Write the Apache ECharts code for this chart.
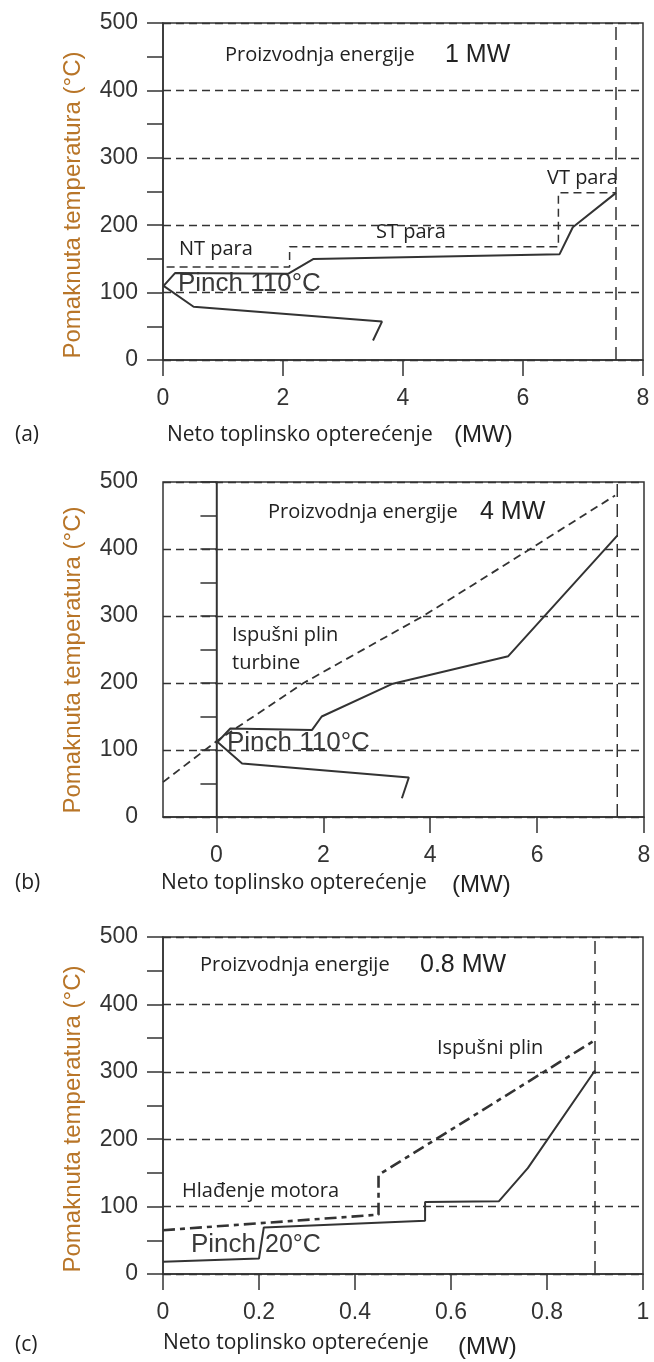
<!DOCTYPE html>
<html>
<head>
<meta charset="utf-8">
<script src="https://cdn.jsdelivr.net/npm/echarts@6/dist/echarts.min.js"></script>
<style>
  html, body { margin: 0; padding: 0; background: #fff; }
  #chart { width: 654px; height: 1362px; }
</style>
</head>
<body>
<div id="chart"></div>
<script>
// (a) steam only
const aCurveX = [3.5, 3.65, 0.51, 0.01, 0.2, 2.09, 2.51, 6.61, 6.83, 7.55];
const aCurveT = [29, 57, 79, 110, 129, 128, 150, 157, 197, 248];
const aSteamX = [0.06, 2.11, 2.11, 6.59, 6.59, 7.55];
const aSteamT = [138, 138, 168, 168, 248, 248];
const aLimit = 7.55;

// (b) gas turbine
const bCurveX = [3.47, 3.6, 0.48, 0.02, 0.26, 1.79, 1.97, 3.3, 5.46, 7.5];
const bCurveT = [28, 59, 80, 112, 132, 130, 150, 199, 240, 420];
const bExhaustX = [-1, 0, 1.63, 3.87, 5.87, 7.46];
const bExhaustT = [52, 113, 200, 300, 400, 480];
const bLimit = 7.5;

// (c) engine
const cCurveX = [0, 0.2, 0.21, 0.546, 0.546, 0.7, 0.76, 0.9];
const cCurveT = [18, 23, 69, 79, 107, 108, 157, 302];
const cExhaustX = [0, 0.449, 0.449, 0.9];
const cExhaustT = [65, 88, 147, 347];
const cLimit = 0.9;

const xTicksA = [0, 2, 4, 6, 8];
const xTicksB = [0, 2, 4, 6, 8];
const xTicksC = [0, 0.2, 0.4, 0.6, 0.8, 1];

const zip = (xs, ys) => xs.map((x, i) => [x, ys[i]]);
const ink = '#333';
const sans = 'Liberation Sans, Arial, sans-serif';
const body = '"Open Sans", "Noto Sans", sans-serif';

const grids = [
  { left: 163, top: 23, width: 480, height: 337 },
  { left: 163, top: 482, width: 481, height: 335 },
  { left: 163, top: 937, width: 480, height: 337 },
].map(g => Object.assign(g, { show: true, borderColor: ink, borderWidth: 1.5, backgroundColor: 'transparent' }));

function xAxis(idx, min, max, ticks) {
  return {
    type: 'value', gridIndex: idx, min, max,
    axisLine: { lineStyle: { color: ink, width: 1.5 } },
    axisTick: { customValues: ticks, length: 16, lineStyle: { color: ink, width: 1.5 } },
    axisLabel: { customValues: ticks, margin: 27, color: ink, fontFamily: sans, fontSize: 23 },
    splitLine: { show: false },
  };
}

function yAxis(idx) {
  return {
    type: 'value', gridIndex: idx, min: 0, max: 500, interval: 100,
    axisLine: { show: true, lineStyle: { color: ink, width: 1.5 } },
    axisTick: { length: 16, lineStyle: { color: ink, width: 1.5 } },
    minorTick: { show: true, splitNumber: 2, length: 16, lineStyle: { color: ink, width: 1.5 } },
    axisLabel: { margin: 25, color: ink, fontFamily: sans, fontSize: 23 },
    splitLine: { show: true, lineStyle: { color: ink, width: 1.3, type: [8, 5] } },
  };
}

function line(idx, data, style) {
  return {
    type: 'line', xAxisIndex: idx, yAxisIndex: idx, data,
    symbol: 'none', silent: true, animation: false,
    lineStyle: Object.assign({ color: ink, width: 2 }, style),
  };
}

function txt(x, y, text, font, extra) {
  return Object.assign({
    type: 'text', x, y, silent: true,
    style: { text, font, fill: '#222', align: 'left', verticalAlign: 'middle' },
  }, extra || {});
}

const yTitle = 'Pomaknuta temperatura (°C)';
const xTitle = 'Neto toplinsko opterećenje';
const f20 = '20px ' + body;
const f21 = '21px ' + body;
const big = '25px ' + sans;
const pinch = '26px ' + sans;

const graphic = [
  // (a)
  txt(225, 55, 'Proizvodnja energije', f20),
  txt(445, 55, '1 MW', big),
  txt(547, 178, 'VT para', f20),
  txt(376, 232, 'ST para', f20),
  txt(179, 249, 'NT para', f20),
  txt(178, 284, 'Pinch 110°C', pinch, { style: { text: 'Pinch 110°C', font: pinch, fill: '#3a3a3a', align: 'left', verticalAlign: 'middle' } }),
  txt(15, 435, '(a)', f21),
  txt(167, 435, xTitle, f21),
  txt(454, 435, '(MW)', '24px ' + sans),
  // (b)
  txt(268, 512, 'Proizvodnja energije', f20),
  txt(480, 512, '4 MW', big),
  txt(232, 635, 'Ispušni plin', f20),
  txt(232, 663, 'turbine', f20),
  txt(227, 743, 'Pinch 110°C', pinch, { style: { text: 'Pinch 110°C', font: pinch, fill: '#3a3a3a', align: 'left', verticalAlign: 'middle' } }),
  txt(15, 883, '(b)', f21),
  txt(161, 883, xTitle, f21),
  txt(452, 885, '(MW)', '24px ' + sans),
  // (c)
  txt(200, 965, 'Proizvodnja energije', f20),
  txt(420, 965, '0.8 MW', big),
  txt(437, 1048, 'Ispušni plin', f20),
  txt(182, 1191, 'Hlađenje motora', f20),
  txt(191, 1245, 'Pinch', pinch, { style: { text: 'Pinch', font: pinch, fill: '#3a3a3a', align: 'left', verticalAlign: 'middle' } }),
  txt(265, 1245, '20°C', pinch, { style: { text: '20°C', font: '25px ' + sans, fill: '#3a3a3a', align: 'left', verticalAlign: 'middle' } }),
  txt(15, 1345, '(c)', f21),
  txt(163, 1343, xTitle, f21),
  txt(458, 1347, '(MW)', '24px ' + sans),
];

[205, 660, 1119].forEach(cy => {
  graphic.push({
    type: 'text', x: 73, y: cy, rotation: Math.PI / 2, silent: true,
    style: { text: yTitle, font: '24px ' + sans, fill: '#b87528', align: 'center', verticalAlign: 'middle' },
  });
});

const chart = echarts.init(document.getElementById('chart'));
chart.setOption({
  animation: false,
  grid: grids,
  xAxis: [xAxis(0, 0, 8, xTicksA), xAxis(1, -1, 8, xTicksB), xAxis(2, 0, 1, xTicksC)],
  yAxis: [yAxis(0), yAxis(1), yAxis(2)],
  series: [
    line(0, [[aLimit, 0], [aLimit, 500]], { width: 1.5, type: [13, 7] }),
    line(0, zip(aSteamX, aSteamT), { width: 1.5, type: [8, 5] }),
    line(0, zip(aCurveX, aCurveT), {}),

    line(1, [[0, 0], [0, 500]], { width: 1.3 }),
    line(1, [[bLimit, 0], [bLimit, 500]], { width: 1.5, type: [13, 7] }),
    line(1, zip(bExhaustX, bExhaustT), { width: 1.8, type: [8, 5] }),
    line(1, zip(bCurveX, bCurveT), {}),

    line(2, [[cLimit, 0], [cLimit, 500]], { width: 1.5, type: [13, 7] }),
    line(2, zip(cExhaustX, cExhaustT), { width: 2.6, type: [12, 5, 5, 5] }),
    line(2, zip(cCurveX, cCurveT), {}),
  ],
  graphic,
});
</script>
</body>
</html>
